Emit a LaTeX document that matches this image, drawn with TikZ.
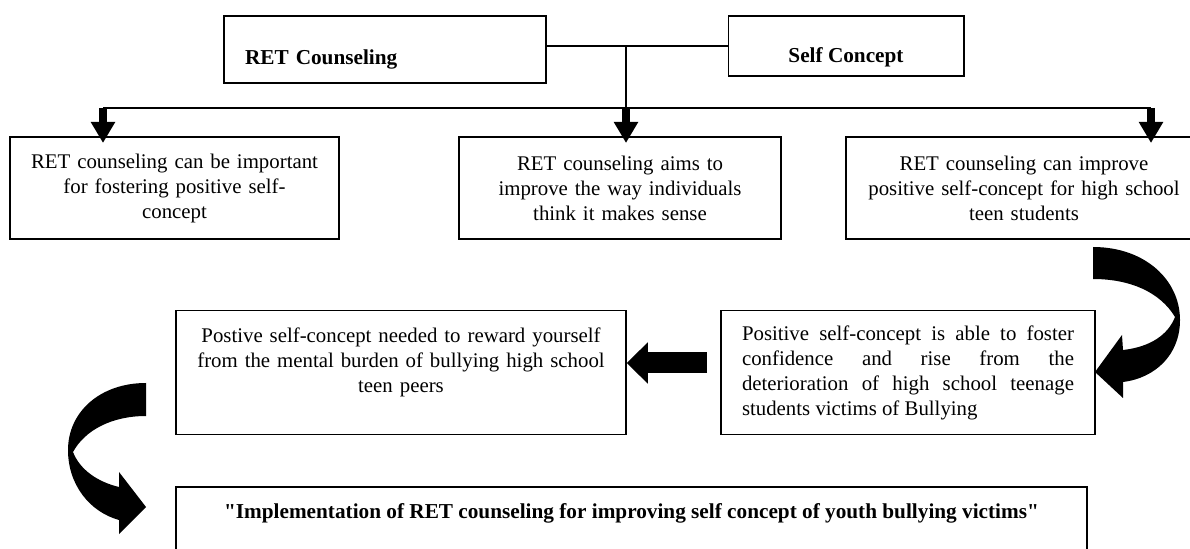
\documentclass[tikz,border=0pt]{standalone}
\usepackage{fontspec}
\setmainfont{Liberation Serif}[Ligatures=TeXOff]
\usetikzlibrary{arrows.meta, positioning, calc}
\tikzset{
  heading/.style={draw,line width=0.9pt,inner ysep=0pt,font=\fontsize{12.75}{15}\selectfont\bfseries},
  point/.style={draw,line width=0.9pt,align=center,inner xsep=6pt,font=\fontsize{12.5}{15}\selectfont},
  point_top/.style={point,minimum height=61.2pt},
  point_mid/.style={point,minimum height=74.4pt},
  link/.style={line width=0.9pt},
  push/.style={line width=4.8pt,-{Triangle[width=13.8pt,length=12.6pt]}},
  pushx/.style={line width=12.6pt,-{Triangle[width=24pt,length=12.6pt]}},
  turnarrow/.style={fill=black},
}

\begin{document}
\begin{tikzpicture}[x=0.6pt,y=-0.6pt]
	\useasboundingbox (0,0) rectangle (1190,549);
	\node[heading,text width=168pt,align=left,inner xsep=12.6pt,text height=29pt,text depth=11.2pt] (ret) at (385,49.5) {RET Counseling};
	\node[heading,minimum width=141.3pt,text height=28.2pt,text depth=7.8pt] (self) at (846,46) {Self Concept};
	\node[point_top,text width=185.4pt] (top1) at (174.5,188) {RET counseling can be important\\for fostering positive self-\\concept};
	\node[point_top,text width=181.2pt] (top2) at (620,188) {RET counseling aims to\\improve the way individuals\\think it makes sense};
	\node[point_top,text width=201.6pt] (top3) at (1024,188) {RET counseling can improve\\positive self-concept for high school\\teen students};
	\node[point_mid,text width=258pt] (postive) at (401,372.5) {Postive self-concept needed to reward yourself\\from the mental burden of bullying high school\\teen peers\\\mbox{}};
	\node[point_mid,text width=199.2pt,inner xsep=12.6pt,align=justify] (positive) at (908,372.5) {Positive self-concept is able to foster\linebreak confidence and rise from the\linebreak deterioration of high school teenage\linebreak students victims of Bullying};
	\node[heading,minimum width=546.6pt,text height=19pt,text depth=27.8pt] (goal) at (631.5,526) {"Implementation of RET counseling for improving self concept of youth bullying victims"};

	\draw[link] (self.west) -- (self.west -| ret.east);
	\coordinate (hub) at (626,108);
	\coordinate (tip1) at (103,143);
	\coordinate (tip2) at (626,143);
	\coordinate (tip3) at (1151,143);
	\draw[link] (hub |- self.west) -- (hub);
	\draw[link] (tip1 |- hub) -- (tip3 |- hub);
	\foreach \t in {tip1,tip2,tip3}
		\draw[push] (\t |- hub) -- (\t);

	\coordinate (tail) at (707,363);
	\draw[pushx] (tail) -- (tail -| postive.east);

	\fill[turnarrow] (1093,247) .. controls (1145,247) and (1180,280) .. (1180,320)
		.. controls (1180,355) and (1155,378) .. (1123,382) -- (1123,398) -- (1095,372)
		-- (1122,335) -- (1123,350) .. controls (1150,347) and (1168,335) .. (1175,317)
		.. controls (1160,292) and (1130,279) .. (1093,279) -- cycle;
	\fill[turnarrow] (146,383) .. controls (100,383) and (68,412) .. (68,450)
		.. controls (68,485) and (90,512) .. (119,520) -- (119,534) -- (146,507)
		-- (119,472) -- (119,487) .. controls (98,482) and (80,470) .. (73,452)
		.. controls (85,430) and (112,416) .. (146,416) -- cycle;
\end{tikzpicture}
\end{document}
